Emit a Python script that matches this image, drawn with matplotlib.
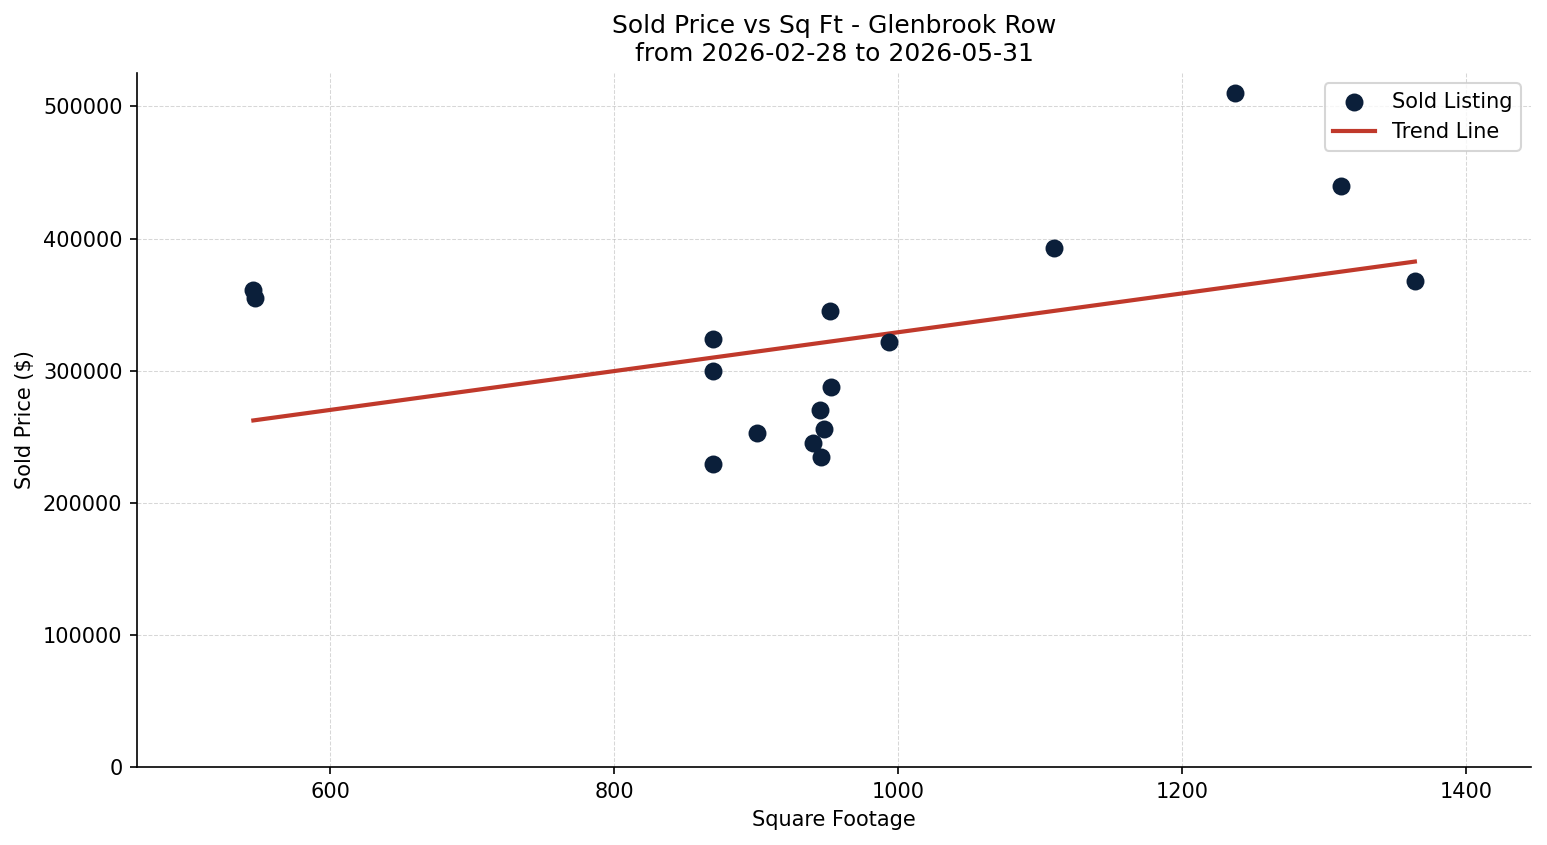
import numpy as np
import matplotlib
matplotlib.use("Agg")
import matplotlib.pyplot as plt

# data
sqft = [546, 547, 870, 870, 870, 901, 940, 945, 946, 948, 952, 953, 994, 1110, 1237, 1312, 1364]
price = [361000, 355000, 324000, 300000, 229000, 252500, 245000, 270000, 235000,
         255500, 345000, 288000, 322000, 392500, 510000, 440000, 367500]
title = "Sold Price vs Sq Ft - Glenbrook Row\nfrom 2026-02-28 to 2026-05-31"

x = np.array(sqft, dtype=float)
y = np.array(price, dtype=float)

fig, ax = plt.subplots(figsize=(1547 / 150, 845 / 150), dpi=150)
fig.subplots_adjust(left=0.0886, right=0.9897, top=0.9136, bottom=0.0923)

ax.scatter(x, y, s=58, color="#0b1f3a", label="Sold Listing", zorder=3)

# trend line
m, b = np.polyfit(x, y, 1)
xs = np.array([x.min(), x.max()])
ax.plot(xs, m * xs + b, color="#c0392b", lw=2, label="Trend Line", zorder=2)

ax.set_xlim(x.min() * 0.85, x.max() * 1.06)
ax.set_ylim(0, y.max() * 1.03)
ax.set_title(title)
ax.set_xlabel("Square Footage")
ax.set_ylabel("Sold Price ($)")
ax.grid(True, linestyle="--", linewidth=0.5, alpha=0.5)
ax.spines["top"].set_visible(False)
ax.spines["right"].set_visible(False)
ax.legend(loc="upper right")

fig.savefig("out.png", dpi=150)
